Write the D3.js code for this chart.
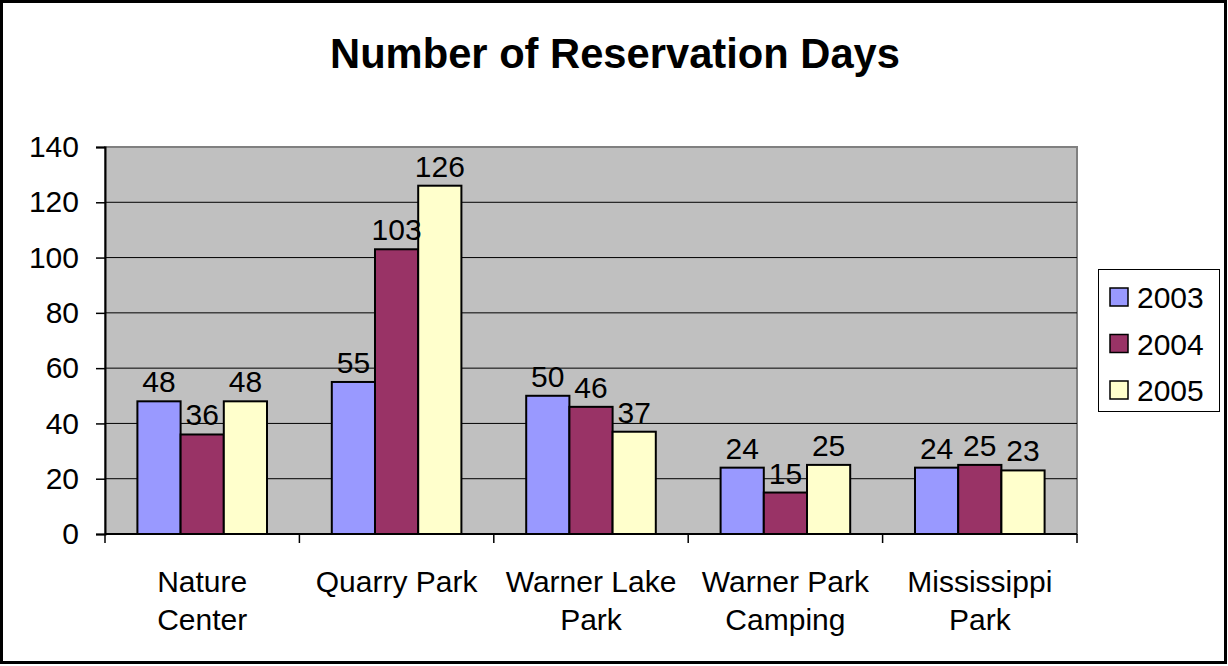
<!DOCTYPE html>
<html lang="en">
<head>
    <meta charset="UTF-8">
    <title>Number of Reservation Days</title>
    <script src="https://d3js.org/d3.v7.min.js"></script>
    <style>
        body, html {
            margin: 0;
            padding: 0;
            background: #ffffff;
            overflow: hidden;
        }
        svg text {
            font-family: "Liberation Sans", Arial, sans-serif;
            fill: #000;
        }
    </style>
</head>
<body>
<div id="chart"></div>
<script>
    const categories = ["Nature Center", "Quarry Park", "Warner Lake Park", "Warner Park Camping", "Mississippi Park"];
    const categoryLines = [["Nature", "Center"], ["Quarry Park"], ["Warner Lake", "Park"], ["Warner Park", "Camping"], ["Mississippi", "Park"]];
    const years = ["2003", "2004", "2005"];
    const values2003 = [48, 55, 50, 24, 24];
    const values2004 = [36, 103, 46, 15, 25];
    const values2005 = [48, 126, 37, 25, 23];
    const yTicks = [0, 20, 40, 60, 80, 100, 120, 140];
    const colors = ["#9999ff", "#993366", "#ffffcc"];

    const series = [values2003, values2004, values2005];

    const width = 1228, height = 666;
    const plot = {left: 105, right: 1077, top: 147, bottom: 534};
    const fontSize = 30;

    const svg = d3.select("#chart").append("svg")
        .attr("width", width)
        .attr("height", height);

    // outer chart border
    svg.append("rect")
        .attr("x", 1.5).attr("y", 1.5)
        .attr("width", 1224).attr("height", 661)
        .attr("fill", "#fff")
        .attr("stroke", "#000")
        .attr("stroke-width", 3);

    svg.append("text")
        .attr("x", 615)
        .attr("y", 68)
        .attr("text-anchor", "middle")
        .attr("font-size", 41.7)
        .attr("font-weight", "bold")
        .text("Number of Reservation Days");

    const y = d3.scaleLinear().domain([0, 140]).range([plot.bottom, plot.top]);
    const x0 = d3.scaleBand().domain(categories).range([plot.left, plot.right]).padding(0);
    const x1 = d3.scaleBand().domain(years).range([0, x0.bandwidth()])
        .paddingInner(0).paddingOuter(0.75);

    // plot area
    svg.append("rect")
        .attr("x", plot.left).attr("y", plot.top)
        .attr("width", plot.right - plot.left)
        .attr("height", plot.bottom - plot.top)
        .attr("fill", "#c0c0c0")
        .attr("stroke", "#808080")
        .attr("stroke-width", 2);

    // gridlines
    svg.append("g")
        .selectAll("line")
        .data(yTicks.filter(d => d > 0 && d < 140))
        .enter().append("line")
        .attr("x1", plot.left).attr("x2", plot.right)
        .attr("y1", d => y(d)).attr("y2", d => y(d))
        .attr("stroke", "#000")
        .attr("stroke-width", 1);

    // bars
    const groups = svg.append("g")
        .selectAll("g")
        .data(categories)
        .enter().append("g")
        .attr("transform", d => `translate(${x0(d)},0)`);

    groups.selectAll("rect")
        .data((c, i) => years.map((yr, j) => ({year: yr, value: series[j][i], idx: j})))
        .enter().append("rect")
        .attr("x", d => x1(d.year))
        .attr("y", d => y(d.value))
        .attr("width", x1.bandwidth())
        .attr("height", d => y(0) - y(d.value))
        .attr("fill", d => colors[d.idx])
        .attr("stroke", "#000")
        .attr("stroke-width", 2);

    groups.selectAll("text")
        .data((c, i) => years.map((yr, j) => ({year: yr, value: series[j][i]})))
        .enter().append("text")
        .attr("x", d => x1(d.year) + x1.bandwidth() / 2)
        .attr("y", d => y(d.value) - 9)
        .attr("text-anchor", "middle")
        .attr("font-size", fontSize)
        .text(d => d.value);

    // y axis
    const yAxis = svg.append("g")
        .attr("transform", `translate(${plot.left},0)`)
        .call(d3.axisLeft(y).tickValues(yTicks).tickSize(9).tickPadding(17));
    yAxis.select(".domain").attr("stroke", "#000").attr("stroke-width", 2);
    yAxis.selectAll(".tick line").attr("stroke", "#000").attr("stroke-width", 1.5);
    yAxis.selectAll(".tick text")
        .attr("font-size", fontSize)
        .attr("font-family", "Liberation Sans, Arial, sans-serif")
        .attr("fill", "#000");

    // x axis line and ticks at category boundaries
    svg.append("line")
        .attr("x1", plot.left).attr("x2", plot.right)
        .attr("y1", plot.bottom).attr("y2", plot.bottom)
        .attr("stroke", "#000").attr("stroke-width", 2);

    const boundaries = categories.map(c => x0(c)).concat([plot.right]);
    svg.append("g").selectAll("line")
        .data(boundaries)
        .enter().append("line")
        .attr("x1", d => d).attr("x2", d => d)
        .attr("y1", plot.bottom).attr("y2", plot.bottom + 9)
        .attr("stroke", "#000").attr("stroke-width", 1.5);

    const catLabels = svg.append("g").selectAll("text")
        .data(categories)
        .enter().append("text")
        .attr("text-anchor", "middle")
        .attr("font-size", fontSize)
        .attr("x", d => x0(d) + x0.bandwidth() / 2)
        .attr("y", 592);
    catLabels.each(function (d, i) {
        const t = d3.select(this);
        categoryLines[i].forEach((line, k) => {
            t.append("tspan")
                .attr("x", x0(d) + x0.bandwidth() / 2)
                .attr("dy", k === 0 ? 0 : 38)
                .text(line);
        });
    });

    // legend
    const legend = svg.append("g");
    legend.append("rect")
        .attr("x", 1098.5).attr("y", 269.5)
        .attr("width", 121).attr("height", 142)
        .attr("fill", "#fff")
        .attr("stroke", "#000")
        .attr("stroke-width", 1);

    const items = legend.selectAll("g.item")
        .data(years)
        .enter().append("g")
        .attr("class", "item")
        .attr("transform", (d, i) => `translate(0,${297 + i * 46.5})`);
    items.append("rect")
        .attr("x", 1110).attr("y", -9)
        .attr("width", 18).attr("height", 18)
        .attr("fill", (d, i) => colors[i])
        .attr("stroke", "#000")
        .attr("stroke-width", 1.5);
    items.append("text")
        .attr("x", 1137)
        .attr("y", 11)
        .attr("font-size", fontSize)
        .text(d => d);
</script>
</body>
</html>
